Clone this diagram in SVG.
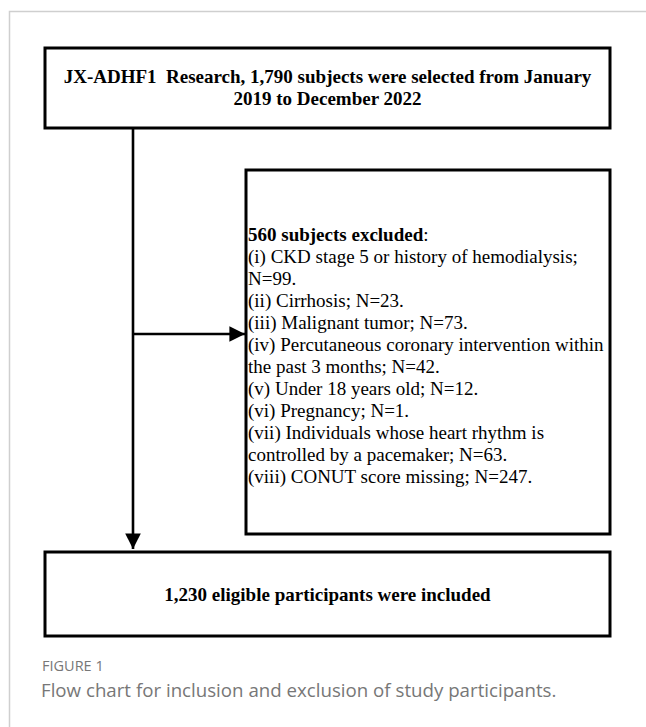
<svg xmlns="http://www.w3.org/2000/svg" width="646" height="727" viewBox="0 0 646 727">
<style>
.box{fill:#fff;stroke:#000;stroke-width:3}
.t{font-family:"Liberation Serif","Times New Roman",serif;font-size:19px;fill:#000}
.b{font-weight:bold}
.ln{stroke:#000;stroke-width:2.6;fill:none}
.cap{font-family:"Open Sans","Noto Sans",sans-serif;fill:#777}
</style>
<defs>
<marker id="ah" viewBox="0 0 10 10" refX="10" refY="5" markerWidth="6.5" markerHeight="6" orient="auto" markerUnits="strokeWidth">
<path d="M0,0 L10,5 L0,10 Z" fill="#000"/>
</marker>
</defs>
<rect width="646" height="727" fill="#fff"/>
<path d="M9.5,727 V11.5 H646" fill="none" stroke="#cfcfcf" stroke-width="1.5"/>
<g id="connectors">
<line class="ln" x1="133" y1="128" x2="133" y2="549" marker-end="url(#ah)"/>
<line class="ln" x1="133" y1="334" x2="245" y2="334" marker-end="url(#ah)"/>
</g>
<g id="node-start">
<rect class="box" x="45" y="48" width="565" height="80"/>
<text class="t b" x="327.5" y="83" text-anchor="middle" xml:space="preserve">JX-ADHF1  Research, 1,790 subjects were selected from January</text>
<text class="t b" x="327.5" y="105" text-anchor="middle">2019 to December 2022</text>
</g>
<g id="node-excluded">
<rect class="box" x="246" y="170" width="364" height="364"/>
<text class="t" x="248" y="241"><tspan class="b">560 subjects excluded</tspan>:</text>
<text class="t" x="248" y="263">(i) CKD stage 5 or history of hemodialysis;</text>
<text class="t" x="248" y="285">N=99.</text>
<text class="t" x="248" y="307">(ii) Cirrhosis; N=23.</text>
<text class="t" x="248" y="329">(iii) Malignant tumor; N=73.</text>
<text class="t" x="248" y="351">(iv) Percutaneous coronary intervention within</text>
<text class="t" x="248" y="373">the past 3 months; N=42.</text>
<text class="t" x="248" y="395">(v) Under 18 years old; N=12.</text>
<text class="t" x="248" y="417">(vi) Pregnancy; N=1.</text>
<text class="t" x="248" y="439">(vii) Individuals whose heart rhythm is</text>
<text class="t" x="248" y="461">controlled by a pacemaker; N=63.</text>
<text class="t" x="248" y="483">(viii) CONUT score missing; N=247.</text>
</g>
<g id="node-included">
<rect class="box" x="45" y="552" width="565" height="84"/>
<text class="t b" x="327.5" y="601" text-anchor="middle">1,230 eligible participants were included</text>
</g>
<g id="caption">
<text class="cap" x="42" y="671" font-size="14.5">FIGURE 1</text>
<text class="cap" x="41" y="697" font-size="18.7">Flow chart for inclusion and exclusion of study participants.</text>
</g>
</svg>
